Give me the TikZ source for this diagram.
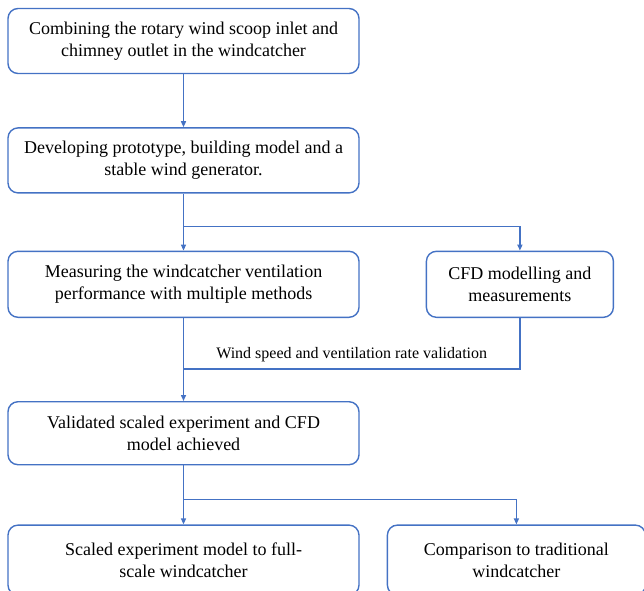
\documentclass[tikz,border=0pt]{standalone}
\usepackage{fontspec}
\setmainfont{Liberation Serif}
\usetikzlibrary{arrows.meta,positioning,calc}
\definecolor{boxc}{HTML}{4472C4}

\begin{document}
\begin{tikzpicture}[x=1pt,y=-1pt,
      box/.style={draw=boxc,rounded corners=10pt,line width=1.4pt,minimum width=351pt,minimum height=65pt,align=center,font=\rmfamily\fontsize{18}{22}\selectfont},
      link/.style={draw=boxc,line width=1.4pt},
      arr/.style={link,-{Triangle[length=6pt,width=5pt]}},
      >=Stealth]
    \useasboundingbox (0,0) rectangle (644,590);
    \node[box] (combine) at (183.5,41) {Combining the rotary wind scoop inlet and\\chimney outlet in the windcatcher};
    \node[box,below=53pt of combine] (develop) {Developing prototype, building model and a\\stable wind generator.};
    \node[box,below=57pt of develop,minimum height=66pt] (measure) {Measuring the windcatcher ventilation\\performance with multiple methods};
    \node[box,right=66pt of measure,minimum width=187pt,minimum height=66pt] (cfd) {CFD modelling and\\measurements};
    \node[box,below=83pt of measure,minimum height=63pt] (valid) {Validated scaled experiment and CFD\\model achieved};
    \node[box,below=59pt of valid,minimum height=70pt] (scaled) {Scaled experiment model to full-\\scale windcatcher};
    \node[box,right=27pt of scaled,minimum width=258pt,minimum height=70pt] (compare) {Comparison to traditional\\windcatcher};
    % forks
    \coordinate (fork1) at ($(develop.south)+(0,33)$);
    \coordinate (fork2) at ($(measure.south)+(0,51)$);
    \coordinate (fork3) at ($(valid.south)+(0,34)$);
    \draw[arr] (combine.south) -- (develop.north);
    \draw[arr] (develop.south) -- (measure.north);
    \draw[arr] (fork1) -| (cfd.north);
    \draw[arr] (measure.south) -- (valid.north);
    \draw[link] (cfd.south) |- node[pos=0.75,above=3pt,font=\rmfamily\fontsize{16}{19}\selectfont] {Wind speed and ventilation rate validation} (fork2);
    \draw[arr] (valid.south) -- (scaled.north);
    \draw[arr] (fork3) -| (compare.north);
  \end{tikzpicture}
\end{document}
